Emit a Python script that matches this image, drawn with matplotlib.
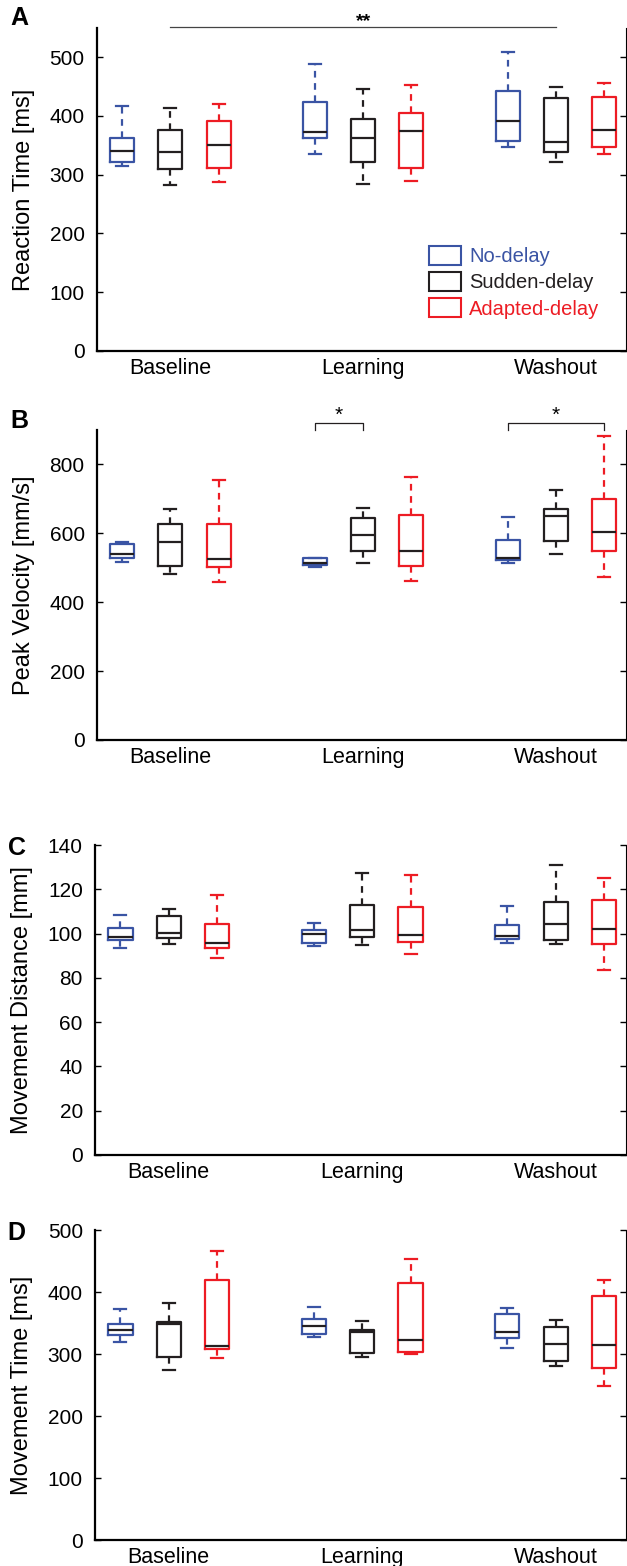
import matplotlib
matplotlib.use('Agg')
import matplotlib.pyplot as plt
from matplotlib.patches import Patch

plt.rcParams['font.family'] = ['Liberation Sans', 'DejaVu Sans']

# ---- data: (low whisker, q1, median, q3, high whisker) per box ----
phases = ['Baseline', 'Learning', 'Washout']
groups = ['No-delay', 'Sudden-delay', 'Adapted-delay']
colors = ['#3a54a4', '#231f20', '#ed1c24']

# order: Baseline(no, sudden, adapted), Learning(...), Washout(...)
rt_stats = [
    (315, 322, 341, 362, 417), (283, 310, 339, 376, 414), (288, 312, 351, 392, 420),
    (335, 362, 373, 424, 488), (284, 322, 362, 395, 446), (289, 311, 375, 405, 452),
    (348, 358, 391, 442, 509), (321, 339, 356, 430, 449), (336, 347, 376, 432, 456),
]
pv_stats = [
    (517, 528, 540, 570, 575), (483, 504, 574, 627, 672), (458, 502, 524, 627, 755),
    (502, 508, 513, 527, 529), (515, 549, 596, 644, 673), (461, 506, 549, 652, 763),
    (514, 523, 529, 581, 647), (540, 578, 649, 672, 727), (473, 548, 604, 700, 884),
]
md_stats = [
    (93.3, 97.0, 98.4, 102.3, 108.5), (95.5, 98.1, 100.2, 107.9, 110.9), (88.9, 93.4, 95.8, 104.1, 117.6),
    (94.3, 95.7, 99.9, 101.4, 104.7), (94.8, 98.5, 101.7, 113.0, 127.4), (90.9, 96.1, 99.4, 112.2, 126.3),
    (95.7, 97.5, 99.1, 103.7, 112.4), (95.2, 97.3, 104.3, 114.2, 130.8), (83.5, 95.4, 102.0, 115.1, 125.1),
]
mt_stats = [
    (319, 330, 339, 348, 372), (275, 296, 349, 352, 382), (293, 308, 313, 419, 466),
    (328, 332, 345, 356, 376), (295, 301, 336, 339, 353), (300, 303, 323, 415, 453),
    (310, 326, 336, 364, 374), (281, 288, 317, 343, 355), (249, 278, 315, 393, 419),
]

panels = [
    ('A', 'Reaction Time [ms]', rt_stats, 550, [0, 100, 200, 300, 400, 500]),
    ('B', 'Peak Velocity [mm/s]', pv_stats, 900, [0, 200, 400, 600, 800]),
    ('C', 'Movement Distance [mm]', md_stats, 140, [0, 20, 40, 60, 80, 100, 120, 140]),
    ('D', 'Movement Time [ms]', mt_stats, 500, [0, 100, 200, 300, 400, 500]),
]
# axes rectangles (figure fraction) and panel-letter heights (axes fraction)
rects = [
    [0.155, 0.7759, 0.843, 0.2063],
    [0.155, 0.5275, 0.843, 0.1979],
    [0.152, 0.2625, 0.846, 0.1979],
    [0.152, 0.0166, 0.846, 0.1979],
]
letter_y = [1.03, 1.03, 0.99, 0.99]

positions = [g * 4 + k + 1 for g in range(3) for k in range(3)]

fig = plt.figure(figsize=(6.27, 15.66), dpi=100)
axes = []
for (letter, ylabel, stats, ymax, yticks), rect, ly in zip(panels, rects, letter_y):
    ax = fig.add_axes(rect)
    axes.append(ax)
    for i, s in enumerate(stats):
        c = colors[i % 3]
        d = [{'whislo': s[0], 'q1': s[1], 'med': s[2], 'q3': s[3], 'whishi': s[4]}]
        ax.bxp(d, positions=[positions[i]], widths=0.5, capwidths=0.25,
               showfliers=False, manage_ticks=False,
               boxprops=dict(color=c, linewidth=1.6),
               whiskerprops=dict(color=c, linewidth=1.6, linestyle=(0, (3, 2.5))),
               capprops=dict(color=c, linewidth=1.6),
               medianprops=dict(color='#231f20', linewidth=1.6))
    ax.set_xlim(0.48, 11.45)
    ax.set_ylim(0, ymax)
    ax.set_yticks(yticks)
    ax.set_xticks([2, 6, 10])
    ax.set_xticklabels(phases)
    ax.tick_params(axis='x', length=0, labelsize=15.5, pad=5)
    ax.tick_params(axis='y', direction='in', length=4, labelsize=15, right=True,
                   width=1, pad=9)
    ax.spines['top'].set_visible(False)
    ax.spines['left'].set_linewidth(1.6)
    ax.spines['bottom'].set_linewidth(1.6)
    ax.spines['right'].set_linewidth(0.8)
    ax.set_ylabel(ylabel, fontsize=17)
    ax.yaxis.set_label_coords(-0.117, 0.5)
    ax.text(-0.148, ly, letter, transform=ax.transAxes, fontsize=18,
            fontweight='bold', ha='center', va='center')

# significance marks
axA, axB = axes[0], axes[1]
axA.plot([2, 10], [552, 552], color='#444444', lw=0.9, clip_on=False)
axA.text(6, 546, '**', ha='center', va='bottom', fontsize=14, fontweight='bold')
for x0, x1 in [(5, 6), (9, 11)]:
    axB.plot([x0, x0, x1, x1], [900, 920, 920, 900], color='#231f20', lw=0.9, clip_on=False)
    axB.text((x0 + x1) / 2, 915, '*', ha='center', va='bottom', fontsize=15)

# legend in panel A
handles = [Patch(facecolor='white', edgecolor=c, linewidth=1.5) for c in colors]
leg = axA.legend(handles, groups, loc='upper left', bbox_to_anchor=(0.612, 0.35),
                 frameon=False, fontsize=14.5, handlelength=1.6, handleheight=1.05,
                 handletextpad=0.4, labelspacing=0.3, borderaxespad=0)
for t, c in zip(leg.get_texts(), colors):
    t.set_color(c)

plt.savefig('out.png', dpi=100)
